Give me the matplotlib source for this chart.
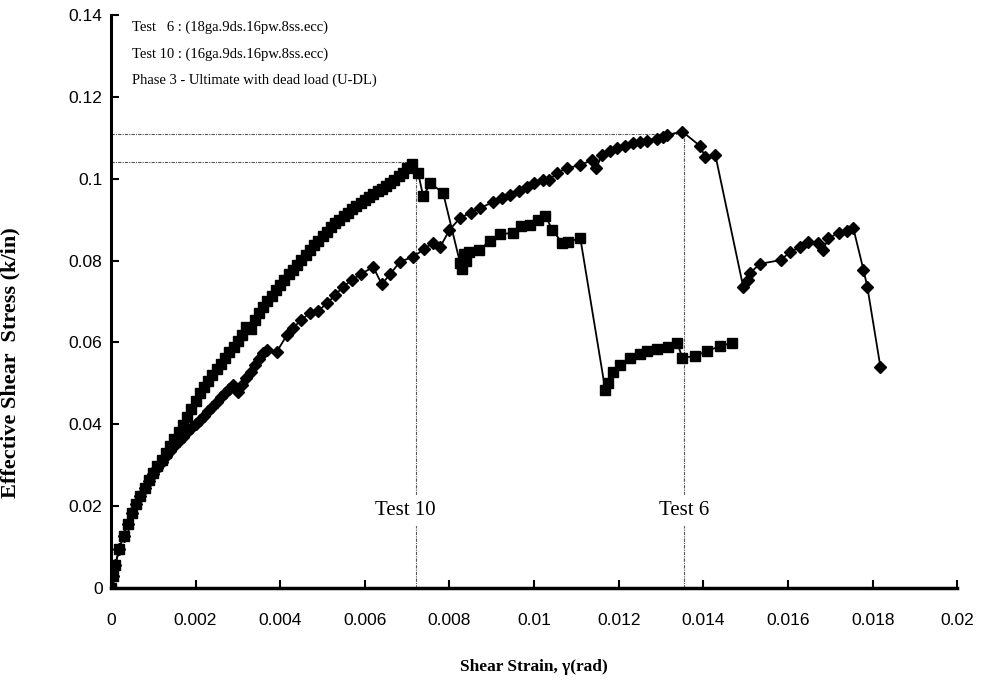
import matplotlib
matplotlib.use('Agg')
import matplotlib.pyplot as plt

# Test 10 (16ga) - squares
test10_x = [0, 0.00005, 0.0001, 0.0002, 0.0003, 0.0004, 0.0005, 0.0006, 0.0007, 0.0008,
            0.0009, 0.0010, 0.0011, 0.0012, 0.0013, 0.0014, 0.0015, 0.0016, 0.0017, 0.0018,
            0.0019, 0.0020, 0.0021, 0.0022, 0.0023, 0.0024, 0.0025, 0.0026, 0.0027, 0.0028,
            0.0029, 0.0030, 0.0031, 0.0032, 0.0033, 0.0034, 0.0035, 0.0036, 0.0037, 0.0038,
            0.0039, 0.0040, 0.0041, 0.0042, 0.0043, 0.0044, 0.0045, 0.0046, 0.0047, 0.0048,
            0.0049, 0.0050, 0.0051, 0.0052, 0.0053, 0.0054, 0.0055, 0.0056, 0.0057, 0.0058,
            0.0059, 0.0060, 0.0061, 0.0062, 0.0063, 0.0064, 0.0065, 0.0066, 0.0067, 0.0068,
            0.0069, 0.0070, 0.00711,
            0.00726, 0.00738, 0.00755, 0.00785, 0.00825, 0.0083, 0.00835, 0.0084, 0.00845,
            0.0087, 0.00895, 0.0092, 0.0095, 0.0097, 0.0099, 0.0101, 0.01026, 0.01043,
            0.01066, 0.0108, 0.01109,
            0.01168, 0.01175, 0.01187, 0.01203, 0.01227, 0.01251, 0.01267, 0.01291, 0.01317,
            0.01338, 0.0135, 0.01381, 0.01409, 0.0144, 0.01468]
test10_y = [0, 0.003, 0.0055, 0.0095, 0.0128, 0.0157, 0.0183, 0.0205, 0.0225, 0.0245,
            0.0264, 0.0280, 0.0297, 0.0313, 0.0330, 0.0347, 0.0363, 0.0380, 0.0398, 0.0418,
            0.0437, 0.0457, 0.0476, 0.0490, 0.0505, 0.0520, 0.0534, 0.0548, 0.0562, 0.0576,
            0.0589, 0.0603, 0.0618, 0.0638, 0.0632, 0.0655, 0.0672, 0.0687, 0.0700, 0.0714,
            0.0727, 0.0740, 0.0753, 0.0766, 0.0778, 0.0790, 0.0801, 0.0813, 0.0825, 0.0837,
            0.0848, 0.0859, 0.0870, 0.0882, 0.0891, 0.0900, 0.0909, 0.0917, 0.0925, 0.0933,
            0.0940, 0.0948, 0.0955, 0.0962, 0.0969, 0.0976, 0.0983, 0.0990, 0.0997, 0.1006,
            0.1015, 0.1025, 0.1035,
            0.1013, 0.0957, 0.0989, 0.0965, 0.0794, 0.0780, 0.0815, 0.0800, 0.0820,
            0.0825, 0.0848, 0.0865, 0.0867, 0.0885, 0.0887, 0.0898, 0.0910, 0.0875,
            0.0843, 0.0845, 0.0855,
            0.0484, 0.0500, 0.0528, 0.0545, 0.0562, 0.0572, 0.0579, 0.0584, 0.0589,
            0.0599, 0.0562, 0.0567, 0.0579, 0.0591, 0.0599]

# Test 6 (18ga) - diamonds
test6_x = [0, 0.00005, 0.0001, 0.0002, 0.0003, 0.0004, 0.0005, 0.0006, 0.0007, 0.0008,
           0.0009, 0.0010, 0.0011, 0.0012, 0.0013, 0.0014, 0.0015, 0.0016, 0.0017, 0.0018,
           0.0019, 0.0020, 0.0021, 0.0022, 0.0023, 0.0024, 0.0025, 0.0026, 0.0027, 0.0028,
           0.00288, 0.0030, 0.0031, 0.0032, 0.0033, 0.0034, 0.0035, 0.0036, 0.00369, 0.00392,
           0.00416, 0.0043, 0.0045, 0.0047, 0.0049, 0.0051, 0.0053, 0.00548, 0.0057, 0.0059,
           0.0062, 0.0064, 0.0066, 0.00683, 0.00714, 0.0074, 0.0076, 0.00778, 0.0080, 0.00825,
           0.0085, 0.00872, 0.00903, 0.00925, 0.00943, 0.00965, 0.00983, 0.0100, 0.0102, 0.01035,
           0.01055, 0.01078, 0.01109, 0.01137, 0.01147, 0.0116, 0.0118, 0.01196, 0.01215, 0.01234,
           0.0125, 0.01267, 0.01291, 0.01305, 0.01314, 0.0135, 0.01392, 0.01404, 0.01428,
           0.01494, 0.01506, 0.0151, 0.01534, 0.01582, 0.01605, 0.01629, 0.01648, 0.01671,
           0.01683, 0.01695, 0.0172, 0.0174, 0.01754, 0.01778, 0.01787, 0.01818]
test6_y = [0, 0.003, 0.0055, 0.0095, 0.0128, 0.0157, 0.0183, 0.0205, 0.0225, 0.0245,
           0.0262, 0.0278, 0.0293, 0.0308, 0.0322, 0.0335, 0.0347, 0.0358, 0.0369, 0.0380,
           0.0390, 0.0400, 0.0410, 0.0420, 0.0432, 0.0443, 0.0455, 0.0466, 0.0477, 0.0487,
           0.0496, 0.0479, 0.0495, 0.0512, 0.0528, 0.0545, 0.0560, 0.0574, 0.0581, 0.0577,
           0.0618, 0.0635, 0.0655, 0.0672, 0.0677, 0.0695, 0.0715, 0.0736, 0.0752, 0.0767,
           0.0784, 0.0742, 0.0767, 0.0797, 0.0809, 0.0828, 0.0843, 0.0833, 0.0875, 0.0904,
           0.0917, 0.0928, 0.0943, 0.0952, 0.0960, 0.0970, 0.0980, 0.0990, 0.0997, 0.0996,
           0.1015, 0.1026, 0.1033, 0.1046, 0.1026, 0.1058, 0.1068, 0.1075, 0.1081, 0.1087,
           0.1090, 0.1092, 0.1097, 0.1103, 0.1107, 0.1115, 0.1080, 0.1053, 0.1058,
           0.0735, 0.0752, 0.0770, 0.0792, 0.0801, 0.0821, 0.0833, 0.0845, 0.0843,
           0.0826, 0.0855, 0.0867, 0.0872, 0.0879, 0.0777, 0.0736, 0.0540]

# peak reference lines
peak10 = (0.0072, 0.104)
peak6 = (0.01355, 0.111)

x_ticks = [0, 0.002, 0.004, 0.006, 0.008, 0.01, 0.012, 0.014, 0.016, 0.018, 0.02]
x_tick_labels = ['0', '0.002', '0.004', '0.006', '0.008', '0.01', '0.012', '0.014', '0.016', '0.018', '0.02']
y_ticks = [0, 0.02, 0.04, 0.06, 0.08, 0.1, 0.12, 0.14]
y_tick_labels = ['0', '0.02', '0.04', '0.06', '0.08', '0.1', '0.12', '0.14']

info_lines = ['Test   6 : (18ga.9ds.16pw.8ss.ecc)',
              'Test 10 : (16ga.9ds.16pw.8ss.ecc)',
              'Phase 3 - Ultimate with dead load (U-DL)']

serif = ['Liberation Serif', 'DejaVu Serif']
sans = ['Liberation Sans', 'DejaVu Sans']

fig = plt.figure(figsize=(9.81, 6.82), dpi=100)
ax = fig.add_axes([0.113, 0.138, 0.863, 0.84])

# reference lines
ref_style = dict(color='#555555', linewidth=0.8, linestyle=(0, (3, 1, 1, 1)), zorder=1)
ax.plot([0, peak6[0]], [peak6[1], peak6[1]], **ref_style)
ax.plot([peak6[0], peak6[0]], [0, peak6[1]], **ref_style)
ax.plot([0, peak10[0]], [peak10[1], peak10[1]], **ref_style)
ax.plot([peak10[0], peak10[0]], [0, peak10[1]], **ref_style)

ax.plot(test10_x, test10_y, color='black', linewidth=1.3, marker='s', markersize=7.5,
        markerfacecolor='black', markeredgecolor='black', zorder=3)
ax.plot(test6_x, test6_y, color='black', linewidth=1.3, marker='D', markersize=6,
        markerfacecolor='black', markeredgecolor='black', zorder=3)

ax.text(0.00695, 0.019, 'Test 10', family=serif, fontsize=15,
        ha='center', va='center', backgroundcolor='white', zorder=2)
ax.text(peak6[0], 0.019, 'Test 6', family=serif, fontsize=15,
        ha='center', va='center', backgroundcolor='white', zorder=2)

for i, line in enumerate(info_lines):
    ax.text(0.0005, 0.1369 - i * 0.0064, line, family=serif, fontsize=10.5,
            ha='left', va='center')

ax.set_xlim(0, 0.02)
ax.set_ylim(0, 0.14)
ax.set_xticks(x_ticks)
ax.set_xticklabels(x_tick_labels, family=sans, fontsize=12.5)
ax.set_yticks(y_ticks)
ax.set_yticklabels(y_tick_labels, family=sans, fontsize=12.5)
ax.tick_params(direction='in', length=6, width=1.5)
ax.tick_params(axis='x', pad=18)
ax.tick_params(axis='y', pad=6)

ax.spines['top'].set_visible(False)
ax.spines['right'].set_visible(False)
ax.spines['left'].set_linewidth(2.2)
ax.spines['bottom'].set_linewidth(2.5)

ax.set_xlabel('Shear Strain, \u03b3(rad)', family=serif, fontsize=12.5, fontweight='bold')
ax.set_ylabel('Effective Shear  Stress (k/in)', family=serif, fontsize=16, fontweight='bold')
ax.xaxis.set_label_coords(0.5, -0.124)
ax.yaxis.set_label_coords(-0.107, 0.393)

fig.savefig('out.png', dpi=100)
